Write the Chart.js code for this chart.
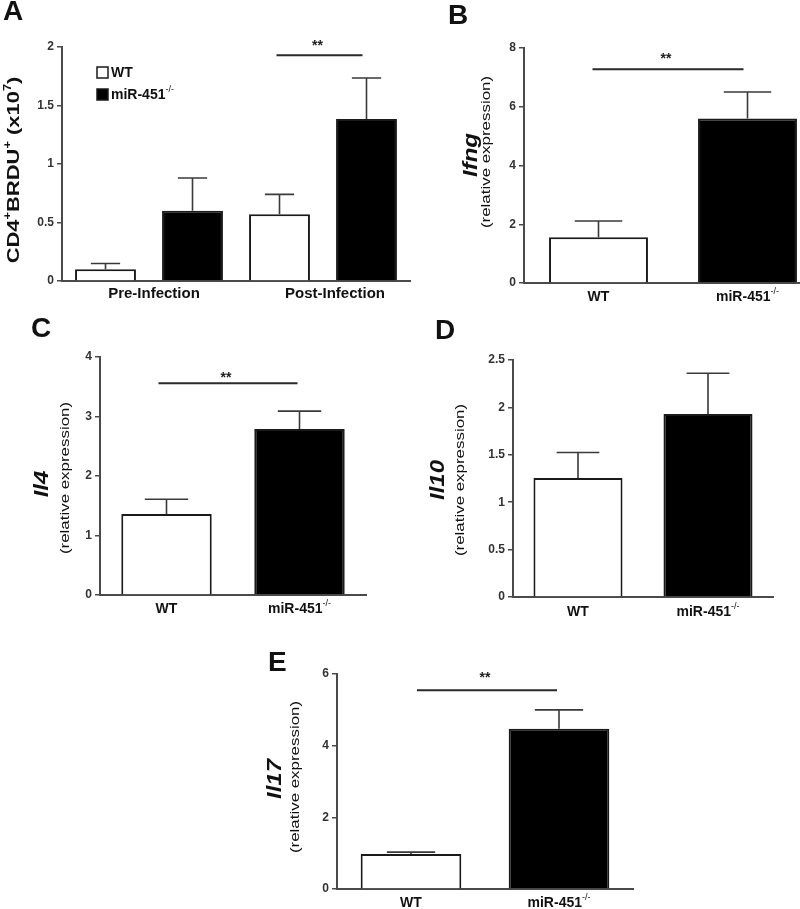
<!DOCTYPE html>
<html>
<head>
<meta charset="utf-8">
<title>miR-451 figure</title>
<script src="https://cdn.jsdelivr.net/npm/chart.js@4.4.1/dist/chart.umd.min.js"></script>
<style>
  body { margin: 0; width: 800px; height: 909px; overflow: hidden; background: #fff; position: relative; }
  canvas { position: absolute; }
  .tag { position: absolute; font: bold 28px 'Liberation Sans', Arial, sans-serif; line-height: 28px; color: #111; }
</style>
</head>
<body>
<canvas id="chartA"></canvas>
<canvas id="chartB"></canvas>
<canvas id="chartC"></canvas>
<canvas id="chartD"></canvas>
<canvas id="chartE"></canvas>
<div class="tag" style="left:3px;top:-3px">A</div>
<div class="tag" style="left:448px;top:1px">B</div>
<div class="tag" style="left:31px;top:314px">C</div>
<div class="tag" style="left:435px;top:316px">D</div>
<div class="tag" style="left:268px;top:648px">E</div>
<script>
// panel A: CD4+BRDU+ cells
const groupsA = ['Pre-Infection', 'Post-Infection'];
const wtA = [0.10, 0.57];
const wtErrA = [0.05, 0.17];
const koA = [0.60, 1.385];
const koErrA = [0.28, 0.35];
const ticksA = [0, 0.5, 1, 1.5, 2];

// panels B-E: relative expression, WT vs knockout
const genotypes = ['WT', 'miR-451'];
const koSup = '-/-';
const ifng = [1.56, 5.6];
const ifngErr = [0.55, 0.9];
const ticksB = [0, 2, 4, 6, 8];
const il4 = [1.36, 2.79];
const il4Err = [0.25, 0.30];
const ticksC = [0, 1, 2, 3, 4];
const il10 = [1.255, 1.93];
const il10Err = [0.27, 0.43];
const ticksD = [0, 0.5, 1, 1.5, 2, 2.5];
const il17 = [0.98, 4.47];
const il17Err = [0.05, 0.53];
const ticksE = [0, 2, 4, 6];

const FAM = "'Liberation Sans', Arial, sans-serif";
const axisColor = '#4a4a4a';
const edge = '#1a1a1a';

// draw text made of pieces (for superscripts), optionally rotated
function rich(ctx, parts, x, y, rot, align, stretch) {
  ctx.save();
  ctx.translate(x, y);
  if (rot) ctx.rotate(-Math.PI / 2);
  ctx.scale(stretch || 1, 1);
  ctx.fillStyle = '#111';
  ctx.textBaseline = 'middle';
  ctx.textAlign = 'left';
  let w = 0;
  parts.forEach(p => { ctx.font = p[1]; w += ctx.measureText(p[0]).width; });
  let cx = align === 'left' ? 0 : -w / 2;
  parts.forEach(p => {
    ctx.font = p[1];
    ctx.fillText(p[0], cx, p[2] || 0);
    cx += ctx.measureText(p[0]).width;
  });
  ctx.restore();
}

function labelParts(txt, sup, size) {
  const parts = [[txt, 'bold ' + size + 'px ' + FAM]];
  if (sup) parts.push([koSup, (size - 5) + 'px ' + FAM, -5]);
  return parts;
}

function relTitle(gene, gx, gy, rx, ry) {
  return [
    {x: gx, y: gy, parts: [[gene, 'italic bold 20px ' + FAM]], s: 1.2},
    {x: rx, y: ry, parts: [['(relative expression)', '13px ' + FAM]], s: 1.3}
  ];
}

function extras(box, ex) {
  return {
    id: 'extras',
    afterDatasetsDraw(chart) {
      const ctx = chart.ctx, ys = chart.scales.y;
      chart.data.datasets.forEach((ds, di) => {
        chart.getDatasetMeta(di).data.forEach((bar, i) => {
          const top = ys.getPixelForValue(ds.data[i] + ds.errors[i]);
          const half = bar.width * 0.24;
          ctx.save();
          ctx.strokeStyle = '#3a3a3a';
          ctx.lineWidth = 1.6;
          ctx.beginPath();
          ctx.moveTo(bar.x, bar.y);
          ctx.lineTo(bar.x, top);
          ctx.moveTo(bar.x - half, top);
          ctx.lineTo(bar.x + half, top);
          ctx.stroke();
          ctx.restore();
        });
      });
    },
    afterDraw(chart) {
      const ctx = chart.ctx, ys = chart.scales.y, xs = chart.scales.x;
      // significance bar
      if (ex.sig) {
        const a = chart.getDatasetMeta(ex.sig.a[0]).data[ex.sig.a[1]];
        const b = chart.getDatasetMeta(ex.sig.b[0]).data[ex.sig.b[1]];
        const y = ys.getPixelForValue(ex.sig.y);
        const x0 = a.x + ex.sig.dx[0], x1 = b.x + ex.sig.dx[1];
        ctx.save();
        ctx.strokeStyle = '#2a2a2a';
        ctx.lineWidth = 2;
        ctx.beginPath();
        ctx.moveTo(x0, y);
        ctx.lineTo(x1, y);
        ctx.stroke();
        ctx.fillStyle = '#222';
        ctx.font = 'bold 14px ' + FAM;
        ctx.textAlign = 'center';
        ctx.textBaseline = 'alphabetic';
        ctx.fillText('**', (x0 + x1) / 2 - 2, y - ex.sig.lift);
        ctx.restore();
      }
      // category labels under the axis
      chart.data.labels.forEach((lab, i) => {
        const x = xs.getPixelForValue(i) + (ex.xShift ? ex.xShift[i] : 0);
        rich(ctx, labelParts(lab, ex.sup && i === 1, ex.xSize), x, chart.chartArea.bottom + ex.xGap, false);
      });
      // axis titles
      ex.titles.forEach(t => rich(ctx, t.parts, t.x - box.x, t.y - box.y, true, 'center', t.s));
      // legend
      if (ex.legend) {
        chart.data.datasets.forEach((ds, i) => {
          const lx = ex.legend.x - box.x, ly = ex.legend.y - box.y + i * ex.legend.gap;
          ctx.save();
          ctx.fillStyle = ds.backgroundColor;
          ctx.fillRect(lx, ly, 11, 11);
          ctx.strokeStyle = edge;
          ctx.lineWidth = 1.5;
          ctx.strokeRect(lx, ly, 11, 11);
          ctx.restore();
          rich(ctx, labelParts(ds.label, i === 1, 14), lx + 14, ly + 6, false, 'left');
        });
      }
    }
  };
}

function panel(id, box, area, data, ex) {
  const cv = document.getElementById(id);
  cv.width = box.w;
  cv.height = box.h;
  cv.style.left = box.x + 'px';
  cv.style.top = box.y + 'px';
  new Chart(cv, {
    type: 'bar',
    data: data,
    options: {
      responsive: false,
      animation: false,
      layout: {padding: {left: 0, top: area.t - box.y, right: box.x + box.w - area.r, bottom: 0}},
      plugins: {legend: {display: false}, tooltip: {enabled: false}},
      scales: {
        x: {
          grid: {display: false},
          border: {color: axisColor, width: 2},
          ticks: {display: false},
          afterFit: s => { s.height = box.y + box.h - area.b; }
        },
        y: {
          min: 0,
          max: ex.yTicks[ex.yTicks.length - 1],
          afterBuildTicks: s => { s.ticks = ex.yTicks.map(v => ({value: v})); },
          ticks: {callback: v => String(v), color: '#333', font: {family: FAM, size: 12, weight: 'bold'}, padding: 3},
          grid: {drawOnChartArea: false, tickLength: 5, color: axisColor, lineWidth: 1.5},
          border: {color: axisColor, width: 2},
          afterFit: s => { s.width = area.l - box.x; }
        }
      }
    },
    plugins: [extras(box, ex)]
  });
}

function pairData(vals, errs, pct) {
  return {
    labels: genotypes,
    datasets: [{
      data: vals,
      errors: errs,
      backgroundColor: ['#ffffff', '#000000'],
      borderColor: edge,
      borderWidth: 2,
      categoryPercentage: 1,
      barPercentage: pct
    }]
  };
}

// A
panel('chartA', {x: 0, y: 0, w: 420, h: 310}, {l: 62, t: 47, r: 410, b: 281}, {
  labels: groupsA,
  datasets: [
    {label: 'WT', data: wtA, errors: wtErrA, backgroundColor: '#ffffff', borderColor: edge, borderWidth: 2,
     categoryPercentage: 1, barPercentage: 0.70},
    {label: 'miR-451', data: koA, errors: koErrA, backgroundColor: '#000000', borderColor: edge, borderWidth: 2,
     categoryPercentage: 1, barPercentage: 0.70}
  ]
}, {
  yTicks: ticksA,
  sig: {a: [0, 1], b: [1, 1], y: 1.93, dx: [-3, -4], lift: 5},
  xGap: 13, xSize: 15, xShift: [5, 12],
  titles: [{x: 14, y: 170, s: 1.29, parts: [
    ['CD4', 'bold 17px ' + FAM], ['+', 'bold 10px ' + FAM, -6], ['BRDU', 'bold 17px ' + FAM],
    ['+', 'bold 10px ' + FAM, -6], [' (x10', 'bold 17px ' + FAM], ['7', 'bold 10px ' + FAM, -6],
    [')', 'bold 17px ' + FAM]]}],
  legend: {x: 97, y: 67, gap: 22}
});

// B
panel('chartB', {x: 420, y: 0, w: 410, h: 310}, {l: 524, t: 48, r: 822, b: 283},
  pairData(ifng, ifngErr, 0.664), {
  yTicks: ticksB, sup: true,
  sig: {a: [0, 0], b: [0, 1], y: 7.28, dx: [-6, -4], lift: 6},
  xGap: 14, xSize: 14,
  titles: relTitle('Ifng', 471, 155, 486, 152)
});

// C
panel('chartC', {x: 0, y: 310, w: 400, h: 320}, {l: 100, t: 357, r: 366, b: 595},
  pairData(il4, il4Err, 0.68), {
  yTicks: ticksC, sup: true,
  sig: {a: [0, 0], b: [0, 1], y: 3.56, dx: [-8, -2], lift: 1},
  xGap: 14, xSize: 14,
  titles: relTitle('Il4', 42, 484, 65, 478)
});

// D
panel('chartD', {x: 400, y: 310, w: 400, h: 320}, {l: 513, t: 360, r: 773, b: 597},
  pairData(il10, il10Err, 0.685), {
  yTicks: ticksD, sup: true,
  xGap: 15, xSize: 14,
  titles: relTitle('Il10', 438, 480, 460, 480)
});

// E
panel('chartE', {x: 230, y: 630, w: 420, h: 279}, {l: 337, t: 674, r: 633, b: 889},
  pairData(il17, il17Err, 0.68), {
  yTicks: ticksE, sup: true,
  sig: {a: [0, 0], b: [0, 1], y: 5.55, dx: [6, -2], lift: 8},
  xGap: 14, xSize: 14,
  titles: relTitle('Il17', 275, 779, 295, 777)
});
</script>
</body>
</html>
